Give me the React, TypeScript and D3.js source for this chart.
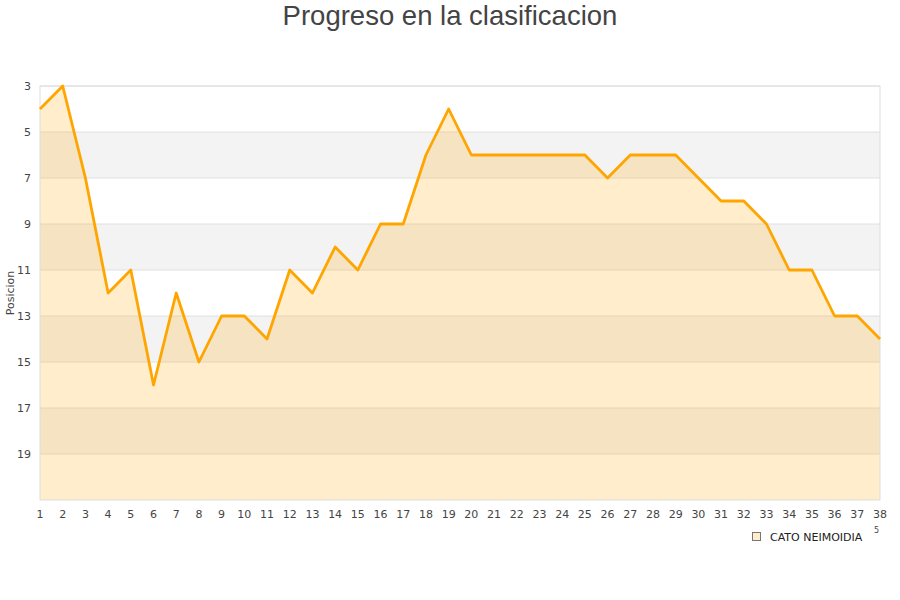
import * as d3 from 'd3';

const W = 900;
const H = 600;
const M = { top: 86, right: 20, bottom: 100, left: 40 };

const rounds = d3.range(1, 39);
const positions = [4, 3, 7, 12, 11, 16, 12, 15, 13, 13, 14, 11, 12, 10, 11, 9, 9, 6, 4, 6, 6, 6, 6, 6, 6, 7, 6, 6, 6, 7, 8, 8, 9, 11, 11, 13, 13, 14];
const yTicks = [3, 5, 7, 9, 11, 13, 15, 17, 19];
const bands = [[5, 7], [9, 11], [13, 15], [17, 19]];
const seriesName = 'CATO NEIMOIDIA';

const FONT = 'DejaVu Sans, sans-serif';

export default function App() {
  const iw = W - M.left - M.right;
  const ih = H - M.top - M.bottom;
  const x = d3.scaleLinear().domain([1, 38]).range([0, iw]);
  const y = d3.scaleLinear().domain([3, 21]).range([0, ih]);

  const pts = rounds.map((r, i) => [r, positions[i]] as [number, number]);
  const line = d3.line<[number, number]>().x((d) => x(d[0])).y((d) => y(d[1]));
  const area = d3
    .area<[number, number]>()
    .x((d) => x(d[0]))
    .y0(ih)
    .y1((d) => y(d[1]));

  return (
    <svg width={W} height={H} style={{ position: 'absolute', left: 0, top: 0, background: '#fff' }}>
      <text x={W / 2} y={25} textAnchor="middle" fontFamily="Liberation Sans, Arial, sans-serif" fontSize={27.5} fill="#444">
        Progreso en la clasificacion
      </text>
      <g transform={`translate(${M.left},${M.top})`}>
        {bands.map(([a, b]) => (
          <rect key={a} x={0} y={y(a)} width={iw} height={y(b) - y(a)} fill="#f3f3f3" />
        ))}
        {yTicks.map((t) => (
          <line key={t} x1={0} x2={iw} y1={y(t)} y2={y(t)} stroke="#e0e0e0" />
        ))}
        <path d={area(pts) ?? ''} fill="rgba(255,165,0,0.2)" />
        <rect x={0} y={0} width={iw} height={ih} fill="none" stroke="#ddd" />
        <path d={line(pts) ?? ''} fill="none" stroke="#ffa500" strokeWidth={2.8} strokeLinejoin="round" />
        {yTicks.map((t) => (
          <text key={t} x={-9} y={y(t)} dy="0.35em" textAnchor="end" fontFamily={FONT} fontSize={11} fill="#444">
            {t}
          </text>
        ))}
        {rounds.map((r) => (
          <text key={r} x={x(r)} y={ih + 18} textAnchor="middle" fontFamily={FONT} fontSize={11} fill="#444">
            {r}
          </text>
        ))}
      </g>
      <text transform={`translate(14,${M.top + ih / 2}) rotate(-90)`} textAnchor="middle" fontFamily={FONT} fontSize={11} fill="#444">
        Posicion
      </text>
      <rect x={752.5} y={532.5} width={8} height={8} fill="rgba(255,165,0,0.2)" stroke="#777" />
      <text x={770} y={541} fontFamily={FONT} fontSize={11} fill="#222">
        {seriesName}
      </text>
      <text x={874} y={533} fontFamily={FONT} fontSize={8} fill="#444">
        5
      </text>
    </svg>
  );
}
